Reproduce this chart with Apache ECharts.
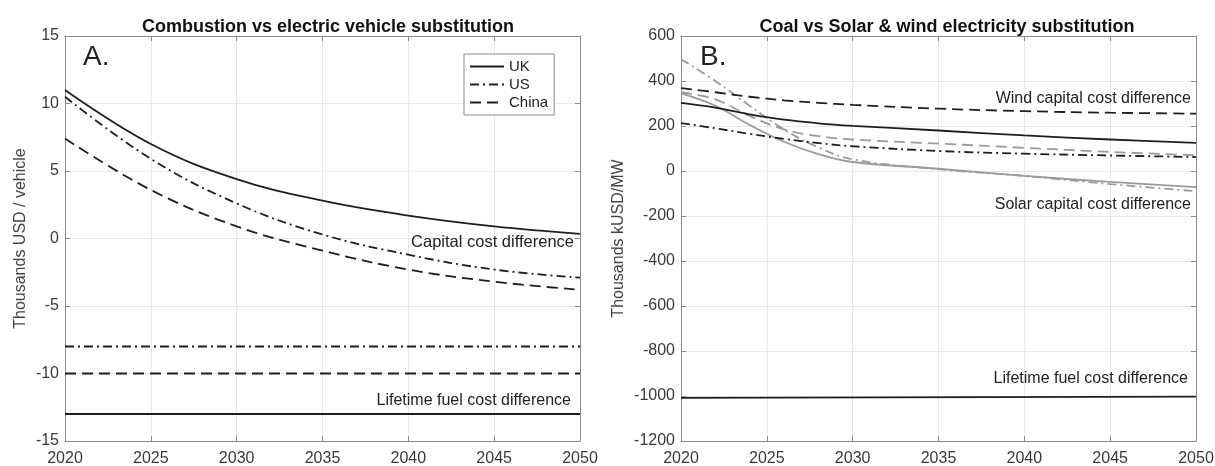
<!DOCTYPE html>
<html>
<head>
<meta charset="utf-8">
<script src="https://cdn.jsdelivr.net/npm/echarts@6/dist/echarts.min.js"></script>
<style>
html,body{margin:0;padding:0;background:#fff;}
#chart{width:1215px;height:466px;}
</style>
</head>
<body>
<div id="chart"></div>
<script>
// ---- Panel A data (thousands USD / vehicle) ----
const yearsA = [2020, 2025, 2030, 2035, 2040, 2045, 2050];
const ukCapital = [11.0, 7.0, 4.4, 2.8, 1.7, 0.9, 0.35];
const usCapital = [10.5, 5.9, 2.6, 0.3, -1.2, -2.3, -2.9];
const chinaCapital = [7.4, 3.6, 0.9, -0.9, -2.3, -3.2, -3.8];
const fuelYears = [2020, 2050];
const ukFuel = [-13, -13];
const usFuel = [-8, -8];
const chinaFuel = [-10, -10];

// ---- Panel B data (thousands kUSD / MW) ----
const yearsB = [2020, 2022, 2024, 2026, 2028, 2030, 2035, 2040, 2045, 2050];
const ukWind = [303, 282, 252, 228, 212, 201, 180, 158, 140, 125];
const usWind = [213, 190, 165, 143, 124, 110, 89, 77, 69, 62];
const chinaWind = [368, 350, 330, 314, 303, 294, 277, 266, 259, 255];
const ukSolar = [345, 290, 205, 130, 75, 40, 10, -22, -48, -72];
const usSolar = [497, 400, 290, 185, 105, 52, 8, -22, -58, -90];
const chinaSolar = [350, 318, 245, 185, 155, 140, 122, 103, 85, 70];
const fuelB = [-1008, -1003];

const FONT = 'Liberation Sans, Arial, Helvetica, sans-serif';
const BLACK = '#1e1e1e';
const GRAY = '#9a9a9a';
const SOLID = 'solid';
const DASH = [11, 6];
const DASHDOT = [9, 4, 2, 4];

function pairs(xs, ys){ return xs.map((x,i)=>[x, ys[i]]); }

function line(name, xi, yi, xs, ys, color, type, smooth){
  return {
    name: name, type: 'line', xAxisIndex: xi, yAxisIndex: yi,
    data: pairs(xs, ys), symbol: 'none', showSymbol: false,
    smooth: smooth ? 0.4 : false,
    lineStyle: {color: color, width: 1.8, type: type},
    itemStyle: {color: color},
    silent: true, animation: false, z: color === GRAY ? 2 : 3
  };
}

const grids = [
  {left: 65, right: 635, top: 36, bottom: 25, containLabel: false, outerBoundsMode: 'none'},
  {left: 681, right: 19, top: 36, bottom: 25, containLabel: false, outerBoundsMode: 'none'}
];

const AX = '#8a8a8a';
const LBL = '#3a3a3a';
function xAxes(gi){
  return [
    {type:'value', gridIndex: gi, min: 2020, max: 2050, interval: 5, position:'bottom',
     axisLine:{show:true, onZero:false, lineStyle:{color:AX, width:1}},
     axisTick:{show:true, inside:true, length:5, lineStyle:{color:AX}},
     axisLabel:{color:LBL, fontSize:16, fontFamily:FONT, margin:10, formatter: v => String(v)},
     splitLine:{show:true, lineStyle:{color:'#e8e8e8', width:1}}},
    {type:'value', gridIndex: gi, min: 2020, max: 2050, interval: 5, position:'top',
     axisLine:{show:true, onZero:false, lineStyle:{color:AX, width:1}},
     axisTick:{show:true, inside:true, length:5, lineStyle:{color:AX}},
     axisLabel:{show:false}, splitLine:{show:false}}
  ];
}
function yAxes(gi, min, max, interval, name, gap){
  return [
    {type:'value', gridIndex: gi, min: min, max: max, interval: interval, position:'left',
     name: name, nameLocation:'middle', nameGap: gap, nameRotate: 90,
     nameTextStyle:{color:'#444', fontSize:16, fontFamily:FONT},
     axisLine:{show:true, onZero:false, lineStyle:{color:AX, width:1}},
     axisTick:{show:true, inside:true, length:5, lineStyle:{color:AX}},
     axisLabel:{color:LBL, fontSize:16, fontFamily:FONT, margin:6, formatter: v => String(v)},
     splitLine:{show:true, lineStyle:{color:'#e8e8e8', width:1}}},
    {type:'value', gridIndex: gi, min: min, max: max, interval: interval, position:'right',
     axisLine:{show:true, onZero:false, lineStyle:{color:AX, width:1}},
     axisTick:{show:true, inside:true, length:5, lineStyle:{color:AX}},
     axisLabel:{show:false}, splitLine:{show:false}}
  ];
}

const chart = echarts.init(document.getElementById('chart'), null, {renderer:'canvas'});

function txt(text, x, y, align, size){
  return {type:'text', silent:true, z:50,
    style:{text:text, x:x, y:y, align:align, verticalAlign:'middle',
      fontSize:size, fontFamily:FONT, fill:'#222'}};
}

const option = {
  animation: false,
  backgroundColor: '#fff',
  title: [
    {text:'Combustion vs electric vehicle substitution', left: 323, top: 13, textAlign:'center',
     textStyle:{fontSize:18, fontWeight:'bold', color:'#111', fontFamily:FONT}},
    {text:'Coal vs Solar & wind electricity substitution', left: 942, top: 13, textAlign:'center',
     textStyle:{fontSize:18, fontWeight:'bold', color:'#111', fontFamily:FONT}}
  ],
  legend: {
    data: ['UK', 'US', 'China'],
    orient: 'vertical', left: 464, top: 54,
    backgroundColor:'#fff', borderColor:AX, borderWidth:1,
    padding:[5, 6, 5, 5], itemGap: 3, itemWidth: 34, itemHeight: 14,
    itemStyle: {opacity: 0},
    textStyle:{fontSize:15, color:'#222', fontFamily:FONT},
    selectedMode: false
  },
  grid: grids,
  xAxis: [...xAxes(0), ...xAxes(1)],
  yAxis: [...yAxes(0, -15, 15, 5, 'Thousands USD / vehicle', 36),
          ...yAxes(1, -1200, 600, 200, 'Thousands kUSD/MW', 54)],
  series: [
    line('UK', 0, 0, yearsA, ukCapital, BLACK, SOLID, true),
    line('US', 0, 0, yearsA, usCapital, BLACK, DASHDOT, true),
    line('China', 0, 0, yearsA, chinaCapital, BLACK, DASH, true),
    line('UK', 0, 0, fuelYears, ukFuel, BLACK, SOLID, false),
    line('US', 0, 0, fuelYears, usFuel, BLACK, DASHDOT, false),
    line('China', 0, 0, fuelYears, chinaFuel, BLACK, DASH, false),

    line('UK solar', 2, 2, yearsB, ukSolar, GRAY, SOLID, true),
    line('US solar', 2, 2, yearsB, usSolar, GRAY, DASHDOT, true),
    line('China solar', 2, 2, yearsB, chinaSolar, GRAY, DASH, true),
    line('UK wind', 2, 2, yearsB, ukWind, BLACK, SOLID, true),
    line('US wind', 2, 2, yearsB, usWind, BLACK, DASHDOT, true),
    line('China wind', 2, 2, yearsB, chinaWind, BLACK, DASH, true),
    line('Fuel B', 2, 2, fuelYears, fuelB, BLACK, SOLID, false)
  ],
  graphic: [
    txt('A.', 83, 57, 'left', 28),
    txt('B.', 700, 57, 'left', 28),
    txt('Capital cost difference', 574, 242, 'right', 16.5),
    txt('Lifetime fuel cost difference', 571, 401, 'right', 16),
    txt('Wind capital cost difference', 1191, 99, 'right', 16),
    txt('Solar capital cost difference', 1191, 205, 'right', 16),
    txt('Lifetime fuel cost difference', 1188, 379, 'right', 16)
  ]
};
chart.setOption(option);
</script>
</body>
</html>
